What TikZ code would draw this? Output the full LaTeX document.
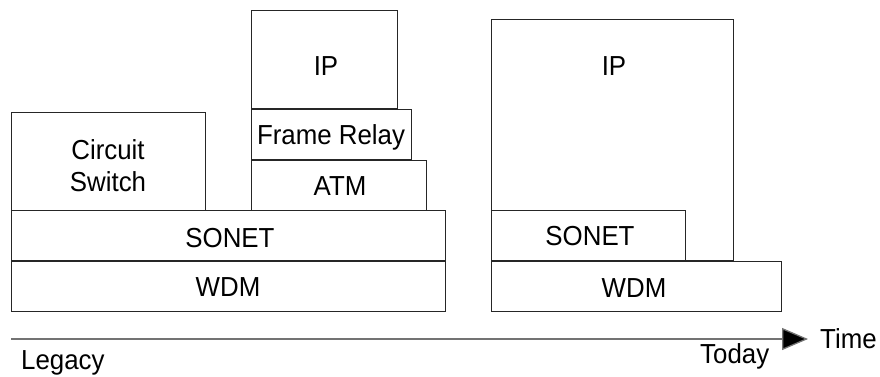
\documentclass[tikz,border=0pt]{standalone}
\usepackage{fontspec}
\setmainfont[FakeStretch=0.94]{Liberation Sans}
\usetikzlibrary{arrows.meta}
\begin{document}
\begin{tikzpicture}[x=1pt,y=-1pt,
  box/.style={draw=black!85,line width=1pt,rectangle,inner sep=0pt,anchor=north west},
  lbl/.style={inner sep=0pt,anchor=base,font=\fontsize{27.5}{32}\selectfont,text=black},
  axis/.style={draw=black!55,line width=1.3pt,-{Triangle[length=26pt,width=22pt,fill=black]}}]
\useasboundingbox (0,0) rectangle (880,376);
% legacy stack
\node[box,minimum width=194pt,minimum height=98pt] (cs) at (11,112) {};
\node[box,minimum width=434pt,minimum height=50pt] (son1) at (11,210) {};
\node[box,minimum width=434pt,minimum height=50pt] (wdm1) at (11,261) {};
\node[box,minimum width=146pt,minimum height=98pt] (ip1) at (251,10) {};
\node[box,minimum width=160pt,minimum height=50pt] (fr) at (251,109) {};
\node[box,minimum width=175pt,minimum height=50pt] (atm) at (251,160) {};
% today stack
\node[box,minimum width=242pt,minimum height=241pt] (ip2) at (491,19) {};
\node[box,minimum width=194pt,minimum height=50pt] (son2) at (491,210) {};
\node[box,minimum width=290pt,minimum height=50pt] (wdm2) at (491,261) {};
% labels
\node[lbl] (tcs1) at (108,159) {Circuit};
\node[lbl] (tcs2) at (108,191.5) {Switch};
\node[lbl] (tson1) at (230,247) {SONET};
\node[lbl] (twdm1) at (228,296) {WDM};
\node[lbl] (tip1) at (326,75) {IP};
\node[lbl] (tfr) at (331,144) {Frame Relay};
\node[lbl] (tatm) at (340,195) {ATM};
\node[lbl] (tip2) at (614,75) {IP};
\node[lbl] (tson2) at (590,245) {SONET};
\node[lbl] (twdm2) at (634,297) {WDM};
% time axis
\coordinate (a0) at (11,339);
\coordinate (a1) at (808,339);
\draw[axis] (a0) -- (a1);
\node[lbl,anchor=base west] (time) at (820,348) {Time};
\node[lbl,anchor=base west] (legacy) at (21,369) {Legacy};
\node[lbl,anchor=base west] (today) at (700,363) {Today};
\end{tikzpicture}
\end{document}
